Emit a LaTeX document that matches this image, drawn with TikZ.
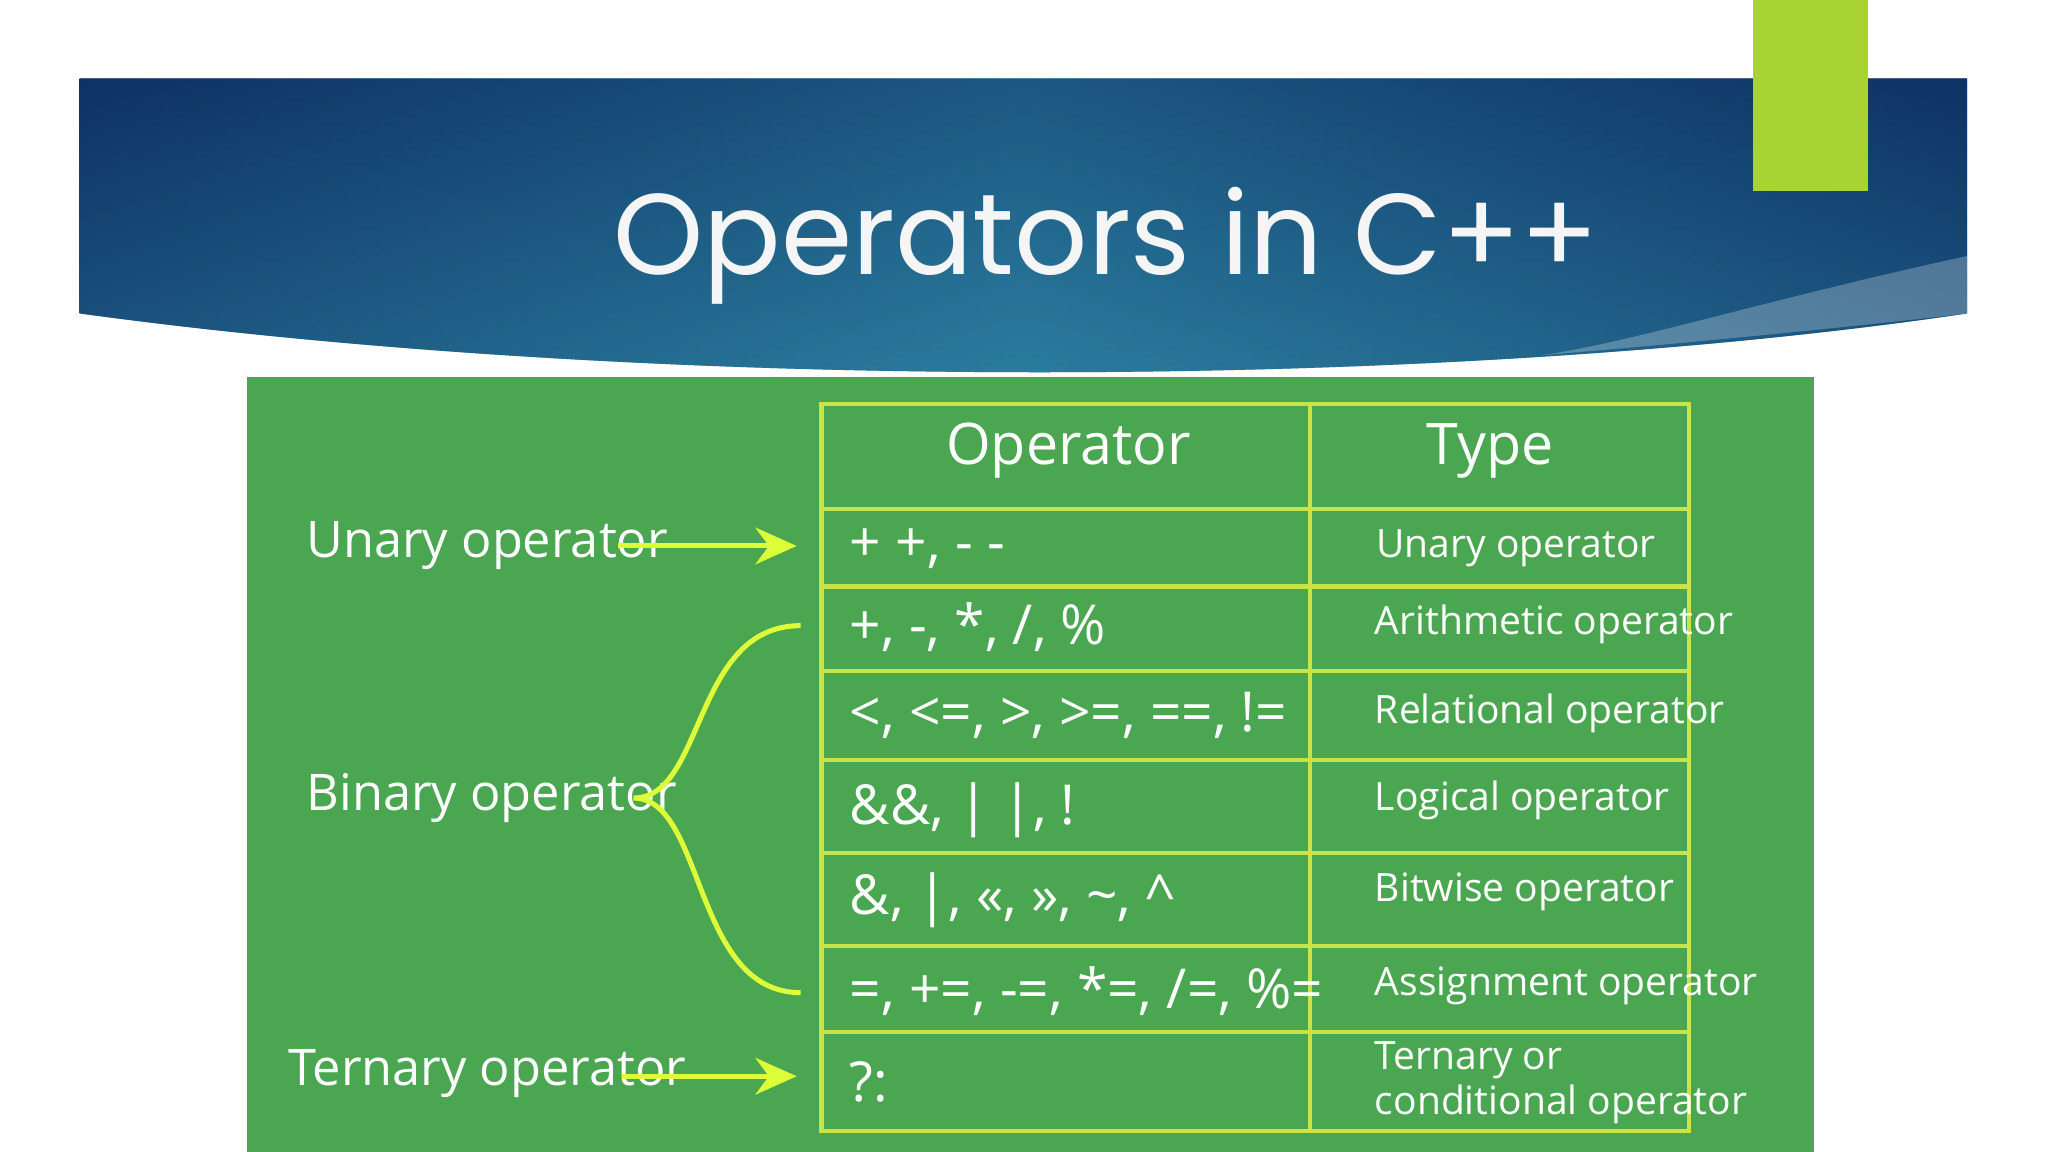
\documentclass[tikz,border=0pt]{standalone}
\usetikzlibrary{arrows.meta}
\usepackage{fontspec}
\setmainfont{Open Sans}
\newfontfamily\titlefont{Poppins}
\definecolor{navy}{HTML}{0E3263}
\definecolor{teal}{HTML}{2C7FA0}
\definecolor{lime}{HTML}{A8D332}
\definecolor{panel}{HTML}{4AA650}
\definecolor{grid}{HTML}{C9E34A}
\definecolor{arr}{HTML}{DDFF3A}
\tikzset{
  lbl/.style={text=white, anchor=west, font=\fontsize{11}{13}\selectfont, inner sep=0},
  op/.style={text=white, anchor=west, font=\fontsize{12}{14}\selectfont, inner sep=0},
  ty/.style={text=white, anchor=west, font=\fontsize{8.5}{10}\selectfont, inner sep=0, align=left},
  hd/.style={text=white, font=\fontsize{12.5}{15}\selectfont, inner sep=0},
  tline/.style={grid, line width=0.9pt},
  conn/.style={arr, line width=1.1pt}
}
\begin{document}
\begin{tikzpicture}[x=0.1mm,y=-0.1mm]
\useasboundingbox (0,0) rectangle (1568,882);
\fill[white] (0,0) rectangle (1568,882);
% banner
\shade[left color=navy, right color=navy, middle color=teal]
  (61,60) -- (1506,60) -- (1506,240) .. controls (1100,300) and (500,300) .. (61,240) -- cycle;
\shade[top color=navy, bottom color=teal, opacity=0.5]
  (61,60) -- (1506,60) -- (1506,240) .. controls (1100,300) and (500,300) .. (61,240) -- cycle;
\fill[white, opacity=0.25] (1506,196) .. controls (1350,230) and (1250,262) .. (1180,272) .. controls (1300,262) and (1420,250) .. (1506,240) -- cycle;
\fill[lime] (1342,0) rectangle (1430,146);
\node[text=white!92!gray, font=\titlefont\fontsize{25}{30}\selectfont, inner sep=0] (title) at (847,188) {Operators in C++};
% panel
\fill[panel] (189,289) rectangle (1389,882);
% table
\draw[tline] (629,309) rectangle (1293,866);
\draw[tline] (1003,309) -- (1003,866);
\foreach \y in {390,449,514,582,653,724,790} \draw[tline] (629,\y) -- (1293,\y);
\node[hd] (h1) at (818,345) {Operator};
\node[hd] (h2) at (1141,345) {Type};
\node[op] (o1) at (650,420) {+ +, - -};
\node[op] (o2) at (650,480) {+, -, *, /, \%};
\node[op] (o3) at (650,548) {<, <=, >, >=, ==, !=};
\node[op] (o4) at (650,620) {\&\&, | |, !};
\node[op] (o5) at (650,689) {\&, |, <<, >>, \textasciitilde, \textasciicircum};
\node[op] (o6) at (650,759) {=, +=, -=, *=, /=, \%=};
\node[op] (o7) at (650,828) {?:};
\node[ty] (t1) at (1053,420) {Unary operator};
\node[ty] (t2) at (1052,478) {Arithmetic operator};
\node[ty] (t3) at (1052,546) {Relational operator};
\node[ty] (t4) at (1052,613) {Logical operator};
\node[ty] (t5) at (1052,683) {Bitwise operator};
\node[ty] (t6) at (1052,755) {Assignment operator};
\node[ty] (t7) at (1052,829) {Ternary or\\conditional operator};
% left labels
\node[lbl] (u) at (234,418) {Unary operator};
\node[lbl] (b) at (234,611) {Binary operator};
\node[lbl] (t) at (220,822) {Ternary operator};
\coordinate (ua) at (473,418); \coordinate (ue) at (610,418);
\coordinate (ta) at (476,824); \coordinate (te) at (610,824);
\draw[conn,-{Stealth[length=9pt,width=8pt]}] (ua) -- (ue);
\draw[conn,-{Stealth[length=9pt,width=8pt]}] (ta) -- (te);
\coordinate (bt) at (613,479); \coordinate (bm) at (485,611); \coordinate (bb) at (613,760);
\draw[conn] (bt) .. controls (530,479) and (540,611) .. (bm) .. controls (540,611) and (530,760) .. (bb);
\end{tikzpicture}
\end{document}
